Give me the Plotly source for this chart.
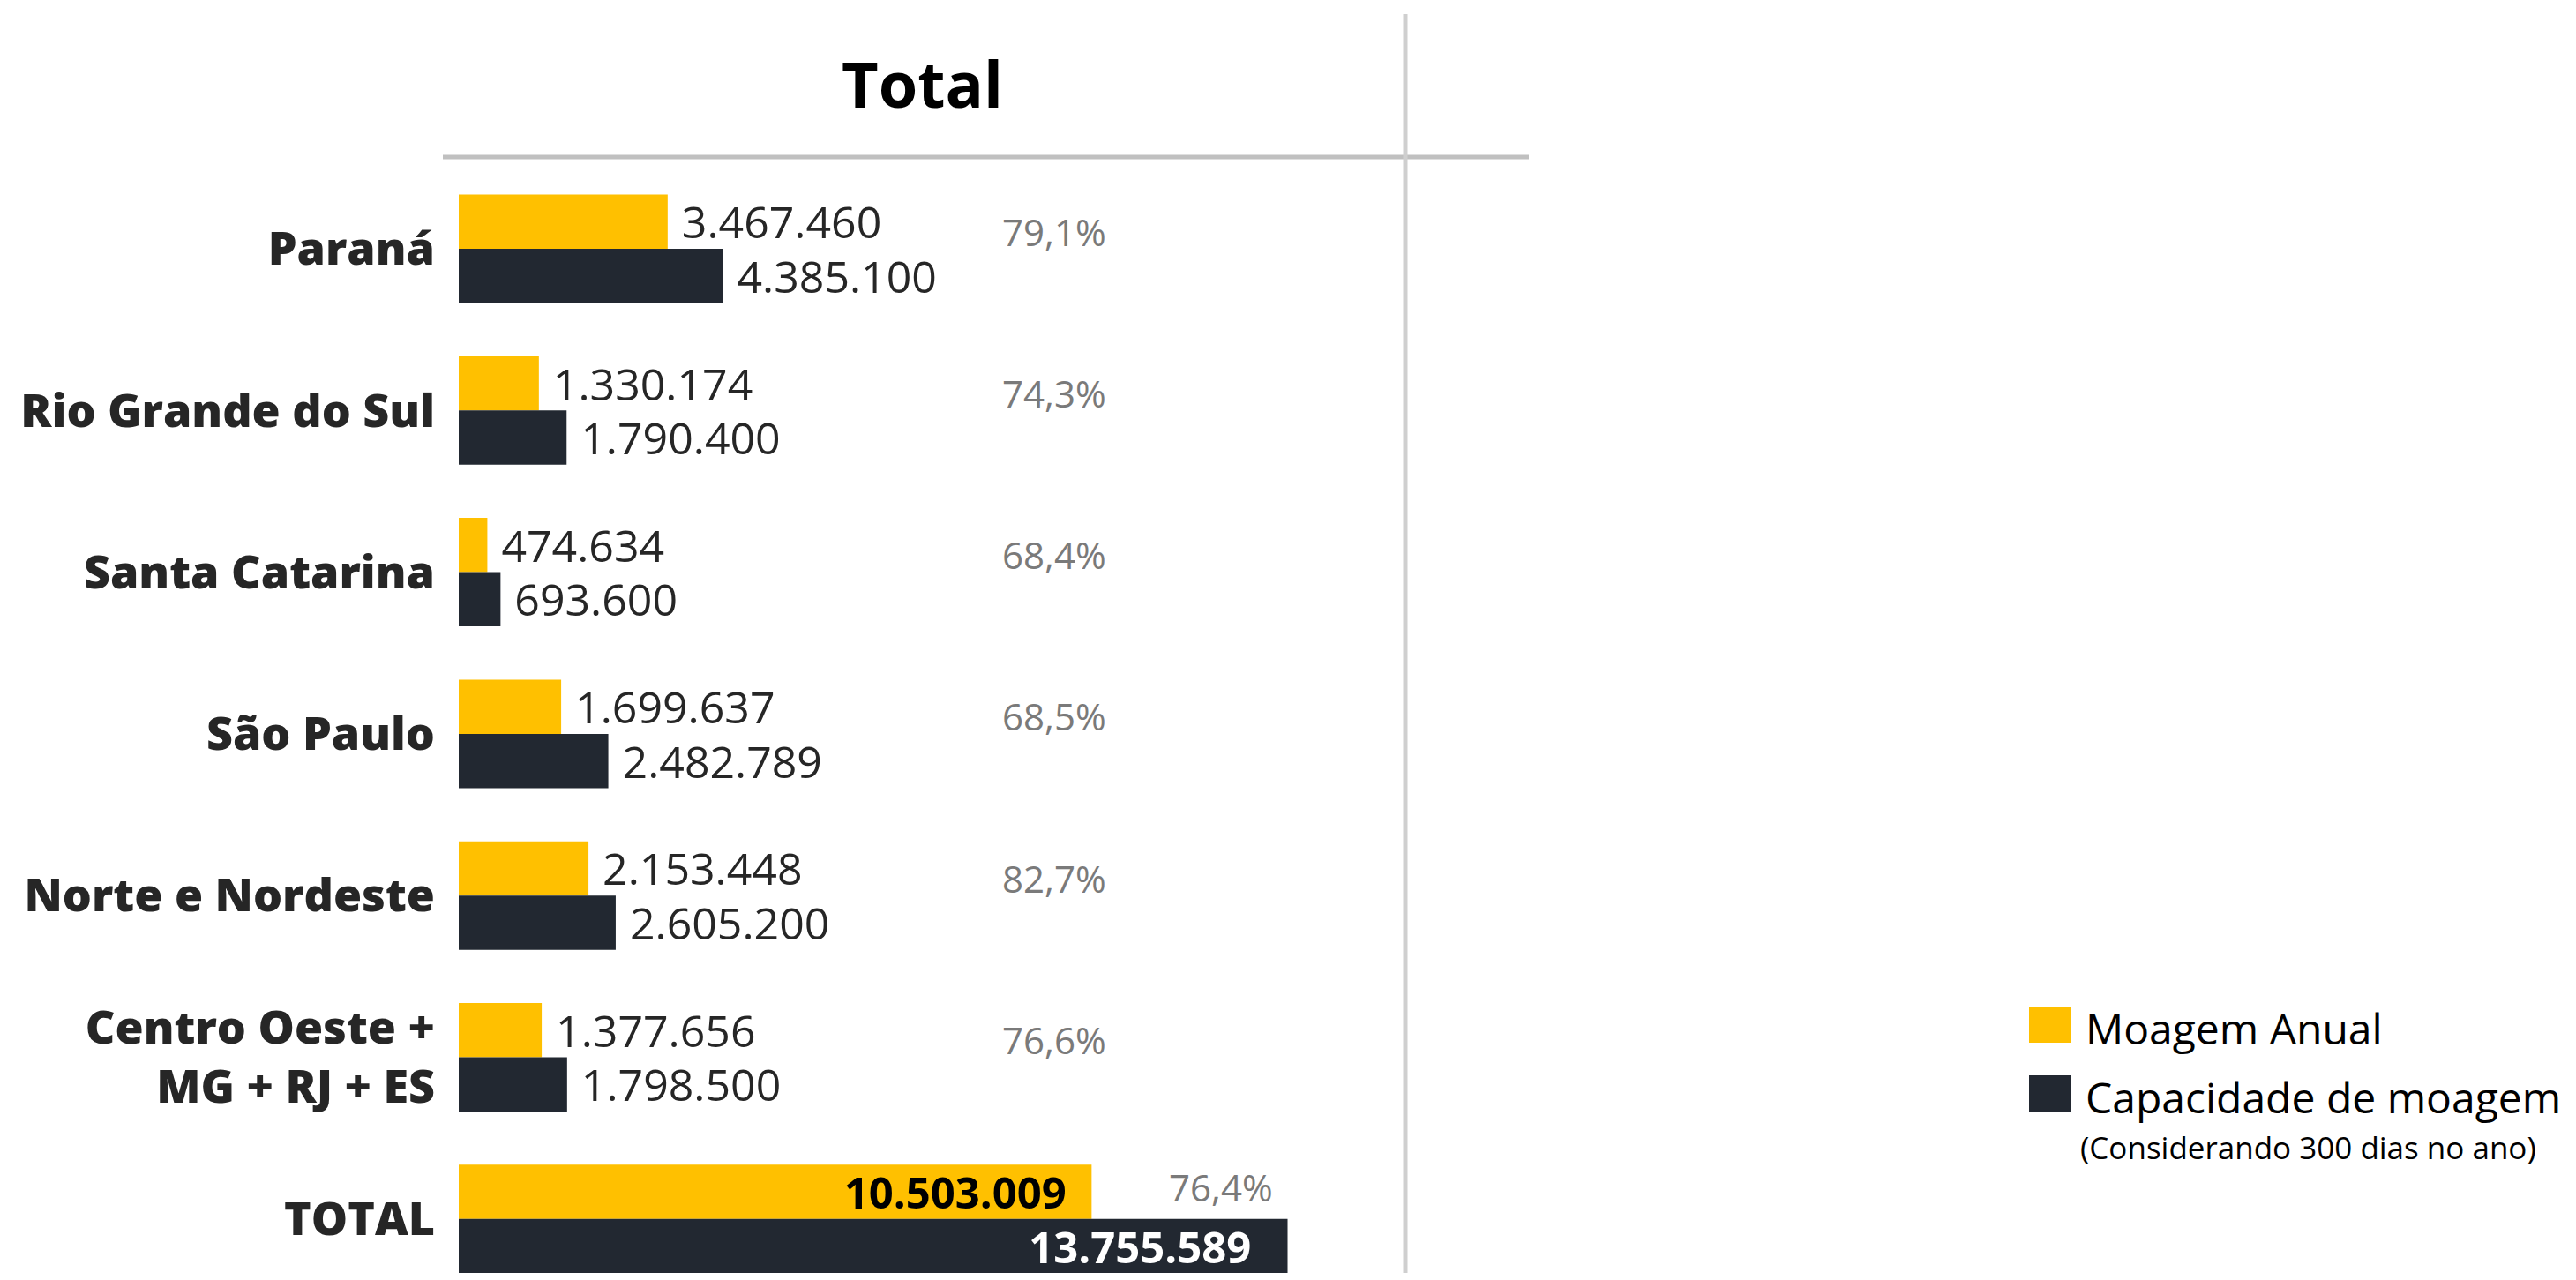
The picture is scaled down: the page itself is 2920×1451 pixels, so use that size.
import plotly.graph_objects as go

# ---------------- data ----------------
categorias = ["Paraná", "Rio Grande do Sul", "Santa Catarina", "São Paulo",
              "Norte e Nordeste", "Centro Oeste +<br>MG + RJ + ES", "TOTAL"]
moagem_anual = [3467460, 1330174, 474634, 1699637, 2153448, 1377656, 10503009]
capacidade_moagem = [4385100, 1790400, 693600, 2482789, 2605200, 1798500, 13755589]
serie_nomes = ["Moagem Anual", "Capacidade de moagem"]
titulo = "Total"
nota_legenda = "(Considerando 300 dias no ano)"

# ---------------- styling ----------------
OFF = 8  # page body margin
W, H = 2920 - 2 * OFF, 1451 - 2 * OFF
AMARELO = "#FFC000"
ESCURO = "#222831"
FONT = "Open Sans"
NBSP = "\u00a0"


def px(x):
    return (x - OFF) / W


def py(y):
    return 1 - (y - OFF) / H


def br(n):
    return f"{n:,}".replace(",", ".")


def pct(a, c):
    return f"{a / c * 100:.1f}".replace(".", ",") + "%"


n = len(categorias)
is_total = [i == n - 1 for i in range(n)]


def textos(vals, pad_inside):
    out = []
    for v, t in zip(vals, is_total):
        if t:
            out.append("<b>" + br(v) + "</b>" + NBSP * pad_inside)
        else:
            out.append(NBSP + br(v))
    return out


posicoes = ["inside" if t else "outside" for t in is_total]

fig = go.Figure()
fig.add_trace(go.Bar(
    y=categorias, x=moagem_anual, orientation="h", name=serie_nomes[0],
    marker=dict(color=AMARELO, line=dict(width=0)),
    text=textos(moagem_anual, 2), texttemplate="%{text}", textposition=posicoes,
    insidetextanchor="end", constraintext="none",
    outsidetextfont=dict(family=FONT, size=50, color="#262626"),
    insidetextfont=dict(family=FONT, size=49, color="#000000"),
    cliponaxis=False, showlegend=False, hoverinfo="skip",
))
fig.add_trace(go.Bar(
    y=categorias, x=capacidade_moagem, orientation="h", name=serie_nomes[1],
    marker=dict(color=ESCURO, line=dict(width=0)),
    text=textos(capacidade_moagem, 3), texttemplate="%{text}", textposition=posicoes,
    insidetextanchor="end", constraintext="none",
    outsidetextfont=dict(family=FONT, size=50, color="#262626"),
    insidetextfont=dict(family=FONT, size=49, color="#FFFFFF"),
    cliponaxis=False, showlegend=False, hoverinfo="skip",
))

# pixel geometry (screen px): axis starts at x=520, 6.83e-5 px per unit;
# category 0 centred at y=282, step 183.3
x0_px, x1_px = 520, 1593
escala = 6.83e-5
x_max = (x1_px - x0_px) / escala
passo = 183.3
c0 = 282 - OFF
y_top = -c0 / passo
y_bot = (H - c0) / passo

fig.update_layout(
    width=W, height=H,
    margin=dict(l=0, r=0, t=0, b=0),
    paper_bgcolor="white", plot_bgcolor="white",
    barmode="group", bargap=0.329, bargroupgap=0,
    font=dict(family=FONT, color="#262626"),
    xaxis=dict(domain=[px(x0_px), px(x1_px)], range=[0, x_max], visible=False,
               showgrid=False, zeroline=False, fixedrange=True),
    yaxis=dict(domain=[0, 1], type="category", categoryorder="array",
               categoryarray=categorias, range=[y_bot, y_top],
               showgrid=False, zeroline=False, showline=False, ticks="",
               ticklabelstandoff=26,
               tickfont=dict(family=FONT, size=52, color="#262626", weight=800)),
)

# percentage annotations
for i, (a, c) in enumerate(zip(moagem_anual, capacidade_moagem)):
    if is_total[i]:
        fig.add_annotation(x=a, y=categorias[i], xref="x", yref="y",
                           text=pct(a, c), showarrow=False, xanchor="left",
                           yanchor="middle", xshift=86, yshift=36,
                           font=dict(family=FONT, size=42, color="#7a7a7a"))
    else:
        fig.add_annotation(x=px(1134), y=categorias[i], xref="paper", yref="y",
                           text=pct(a, c), showarrow=False, xanchor="left",
                           yanchor="middle", yshift=20,
                           font=dict(family=FONT, size=42, color="#7a7a7a"))

# title
fig.add_annotation(x=px(1045), y=py(94), xref="paper", yref="paper", text="<b>" + titulo + "</b>",
                   showarrow=False, xanchor="center", yanchor="middle",
                   font=dict(family=FONT, size=72, color="#000000", weight=800))

# separator lines
fig.add_shape(type="line", xref="paper", yref="paper", x0=px(502), x1=px(1733),
              y0=py(178), y1=py(178), line=dict(color="#c0c0c0", width=5))
fig.add_shape(type="line", xref="paper", yref="paper", x0=px(1593), x1=px(1593),
              y0=py(16), y1=0, line=dict(color="#cfcfcf", width=5))

# custom legend
leg = [(AMARELO, serie_nomes[0], 1141, 1182), (ESCURO, serie_nomes[1], 1219, 1260)]
for cor, nome, ya, yb in leg:
    fig.add_shape(type="rect", xref="paper", yref="paper", x0=px(2300), x1=px(2347),
                  y0=py(yb), y1=py(ya), fillcolor=cor, line=dict(width=0))
    fig.add_annotation(x=px(2362), y=py((ya + yb) / 2 + 4), xref="paper", yref="paper",
                       text=nome, showarrow=False, xanchor="left", yanchor="middle",
                       font=dict(family=FONT, size=48, color="#000000"))
fig.add_annotation(x=px(2356), y=py(1300), xref="paper", yref="paper", text=nota_legenda,
                   showarrow=False, xanchor="left", yanchor="middle",
                   font=dict(family=FONT, size=35, color="#000000"))

fig.write_html("out.html")
